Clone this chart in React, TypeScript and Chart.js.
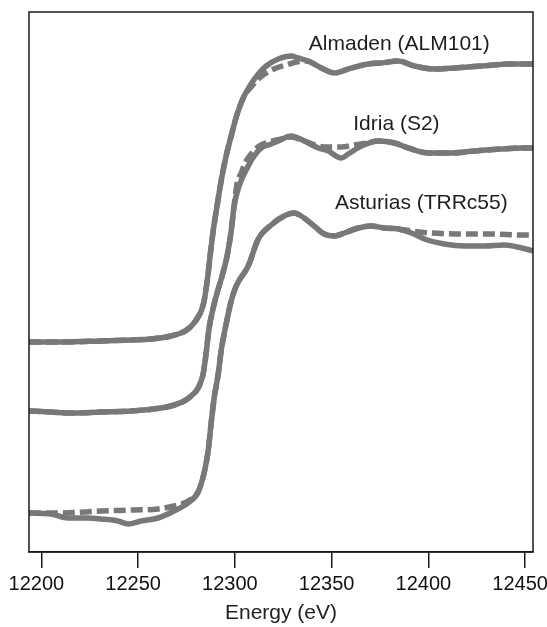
import React, { useEffect, useRef } from "react";
import { Chart, registerables } from "chart.js";

Chart.register(...registerables);

// X axis (energy, eV)
const xMin = 12193.6;
const xMax = 12454.1;
const tickValues = [12200, 12250, 12300, 12350, 12400, 12450];

// Almaden (ALM101)
const almSolidE = [12193.5, 12210.1, 12230.8, 12246.3, 12256.7, 12267.0, 12272.2, 12275.8, 12278.9, 12281.0, 12282.6, 12284.1, 12285.7, 12287.2, 12288.8, 12290.8, 12292.9, 12295.5, 12298.1, 12301.2, 12304.8, 12308.4, 12312.1, 12316.2, 12322.4, 12329.1, 12332.8, 12337.9, 12344.7, 12351.4, 12358.6, 12369.0, 12375.7, 12384.5, 12392.8, 12403.2, 12413.5, 12427.5, 12443.0, 12454.4];
const almSolidA = [2.10, 2.10, 2.11, 2.12, 2.13, 2.16, 2.19, 2.23, 2.29, 2.35, 2.41, 2.51, 2.71, 2.96, 3.21, 3.46, 3.71, 3.96, 4.16, 4.38, 4.56, 4.68, 4.78, 4.86, 4.93, 4.96, 4.94, 4.91, 4.84, 4.79, 4.83, 4.88, 4.89, 4.91, 4.86, 4.83, 4.84, 4.86, 4.88, 4.88];
const almDashE = [12193.5, 12210.1, 12230.8, 12246.3, 12256.7, 12267.0, 12272.2, 12275.8, 12278.9, 12281.0, 12282.6, 12284.1, 12285.7, 12287.2, 12288.8, 12290.8, 12292.9, 12295.5, 12298.1, 12301.2, 12304.8, 12308.4, 12312.1, 12316.2, 12321.4, 12326.6, 12331.7, 12336.9, 12344.7, 12351.4, 12358.6, 12369.0, 12375.7, 12384.5, 12392.8, 12403.2, 12413.5, 12427.5, 12443.0, 12454.4];
const almDashA = [2.10, 2.10, 2.11, 2.12, 2.13, 2.16, 2.19, 2.23, 2.29, 2.35, 2.41, 2.51, 2.71, 2.96, 3.21, 3.46, 3.71, 3.96, 4.16, 4.38, 4.56, 4.65, 4.73, 4.79, 4.84, 4.87, 4.90, 4.91, 4.84, 4.79, 4.83, 4.88, 4.89, 4.91, 4.86, 4.83, 4.84, 4.86, 4.88, 4.88];

// Idria (S2)
const idrSolidE = [12193.5, 12204.9, 12215.3, 12230.8, 12246.3, 12261.9, 12267.0, 12273.8, 12277.4, 12281.0, 12283.6, 12285.1, 12286.7, 12288.8, 12290.8, 12293.4, 12296.0, 12298.1, 12299.6, 12302.2, 12306.9, 12310.0, 12313.6, 12318.8, 12322.4, 12329.1, 12335.9, 12343.1, 12348.3, 12355.0, 12358.6, 12365.4, 12374.2, 12382.5, 12389.7, 12400.1, 12412.0, 12423.9, 12437.8, 12448.2, 12454.4];
const idrSolidA = [1.41, 1.40, 1.39, 1.40, 1.41, 1.44, 1.46, 1.51, 1.56, 1.64, 1.78, 1.98, 2.24, 2.44, 2.59, 2.76, 2.96, 3.21, 3.46, 3.66, 3.86, 3.96, 4.04, 4.08, 4.11, 4.16, 4.11, 4.04, 4.01, 3.94, 3.98, 4.06, 4.11, 4.09, 4.04, 3.99, 3.99, 4.01, 4.03, 4.04, 4.04];
const idrDashE = [12193.5, 12204.9, 12215.3, 12230.8, 12246.3, 12261.9, 12267.0, 12273.8, 12277.4, 12281.0, 12283.6, 12285.1, 12286.7, 12288.8, 12290.8, 12293.4, 12296.0, 12298.1, 12299.6, 12301.2, 12303.3, 12305.3, 12308.4, 12312.6, 12317.8, 12324.0, 12329.1, 12335.9, 12343.1, 12348.3, 12355.0, 12361.7, 12368.0, 12374.2, 12382.5, 12389.7, 12400.1, 12412.0, 12423.9, 12437.8, 12448.2, 12454.4];
const idrDashA = [1.41, 1.40, 1.39, 1.40, 1.41, 1.44, 1.46, 1.51, 1.56, 1.64, 1.78, 1.98, 2.24, 2.44, 2.59, 2.76, 2.96, 3.21, 3.46, 3.69, 3.79, 3.89, 3.98, 4.06, 4.10, 4.13, 4.15, 4.11, 4.06, 4.05, 4.05, 4.07, 4.09, 4.11, 4.09, 4.04, 3.99, 3.99, 4.01, 4.03, 4.04, 4.04];

// Asturias (TRRc55)
const astSolidE = [12193.5, 12204.9, 12213.7, 12224.1, 12230.8, 12239.6, 12244.8, 12251.5, 12260.3, 12268.6, 12275.8, 12281.0, 12284.1, 12286.2, 12287.7, 12289.3, 12291.4, 12292.9, 12295.5, 12298.1, 12300.7, 12306.9, 12312.1, 12318.8, 12325.5, 12330.7, 12334.3, 12341.0, 12346.2, 12351.4, 12356.6, 12363.8, 12370.5, 12377.3, 12384.5, 12391.3, 12398.0, 12408.3, 12418.7, 12429.0, 12439.4, 12448.2, 12454.4];
const astSolidA = [0.39, 0.38, 0.34, 0.34, 0.33, 0.31, 0.28, 0.31, 0.34, 0.41, 0.49, 0.60, 0.79, 1.01, 1.28, 1.54, 1.78, 2.01, 2.28, 2.51, 2.66, 2.86, 3.13, 3.27, 3.36, 3.39, 3.36, 3.26, 3.18, 3.16, 3.19, 3.24, 3.26, 3.24, 3.23, 3.19, 3.13, 3.08, 3.06, 3.06, 3.07, 3.04, 3.01];
const astDashE = [12193.5, 12210.1, 12230.8, 12247.9, 12260.3, 12268.6, 12275.8, 12281.0, 12284.1, 12286.2, 12287.7, 12289.3, 12291.4, 12292.9, 12295.5, 12298.1, 12300.7, 12306.9, 12312.1, 12318.8, 12325.5, 12330.7, 12334.3, 12341.0, 12346.2, 12351.4, 12356.6, 12363.8, 12370.5, 12377.3, 12384.5, 12391.3, 12401.6, 12417.1, 12432.7, 12448.2, 12452.0];
const astDashA = [0.39, 0.39, 0.41, 0.42, 0.43, 0.46, 0.51, 0.60, 0.79, 1.01, 1.28, 1.54, 1.78, 2.01, 2.28, 2.51, 2.66, 2.86, 3.13, 3.27, 3.36, 3.39, 3.36, 3.26, 3.18, 3.16, 3.19, 3.24, 3.26, 3.24, 3.23, 3.21, 3.19, 3.18, 3.18, 3.17, 3.17];

// Sample labels
const labelText = ["Almaden (ALM101)", "Idria (S2)", "Asturias (TRRc55)"];
const labelE = [12385.0, 12383.5, 12396.4];
const labelA = [5.08, 4.28, 3.49];

const yMin = 0;
const yMax = 5.40;

const LINE = "rgb(120,120,120)";
const FONT = "'Liberation Sans', Arial, Helvetica, sans-serif";

const zip = (xs: number[], ys: number[]) => xs.map((x, i) => ({ x, y: ys[i] }));

const frameAndLabels = {
  id: "frameAndLabels",
  afterDatasetsDraw(chart: any) {
    const { ctx, chartArea: a, scales } = chart;
    ctx.save();
    ctx.strokeStyle = "#1a1a1a";
    ctx.lineWidth = 1.5;
    ctx.strokeRect(a.left, a.top, a.right - a.left, a.bottom - a.top);
    ctx.font = `21px ${FONT}`;
    ctx.fillStyle = "#1e1e1e";
    ctx.textAlign = "center";
    ctx.textBaseline = "middle";
    labelText.forEach((txt, i) => {
      ctx.fillText(txt, scales.x.getPixelForValue(labelE[i]), scales.y.getPixelForValue(labelA[i]));
    });
    ctx.restore();
  },
};

export default function App() {
  const ref = useRef<HTMLCanvasElement | null>(null);

  useEffect(() => {
    if (!ref.current) return;
    const solid = (data: any) => ({
      data,
      borderColor: LINE,
      borderWidth: 5.5,
      pointRadius: 0,
      fill: false,
      cubicInterpolationMode: "monotone" as const,
      borderJoinStyle: "round" as const,
    });
    const dashed = (data: any) => ({
      ...solid(data),
      borderDash: [12, 5],
    });
    const chart = new Chart(ref.current, {
      type: "line",
      data: {
        datasets: [
          solid(zip(almSolidE, almSolidA)),
          dashed(zip(almDashE, almDashA)),
          solid(zip(idrSolidE, idrSolidA)),
          dashed(zip(idrDashE, idrDashA)),
          solid(zip(astSolidE, astSolidA)),
          dashed(zip(astDashE, astDashA)),
        ],
      },
      options: {
        animation: false,
        responsive: false,
        events: [],
        layout: { padding: { left: 29, right: 14, top: 12, bottom: 0 } },
        plugins: { legend: { display: false }, tooltip: { enabled: false } },
        scales: {
          x: {
            type: "linear",
            min: xMin,
            max: xMax,
            afterBuildTicks: (scale: any) => {
              scale.ticks = tickValues.map((v) => ({ value: v }));
            },
            afterFit: (scale: any) => {
              scale.height = 75;
              scale.paddingLeft = 0;
              scale.paddingRight = 0;
            },
            grid: {
              display: true,
              drawOnChartArea: false,
              drawTicks: true,
              tickLength: 16,
              color: "#1a1a1a",
              lineWidth: 1.5,
            },
            border: { display: true, color: "#1a1a1a", width: 1.5 },
            ticks: {
              color: "#111",
              font: { family: FONT, size: 20 },
              padding: 4,
              labelOffset: -5,
              maxRotation: 0,
              autoSkip: false,
              callback: (v: any) => String(v),
            },
            title: {
              display: true,
              text: "Energy (eV)",
              color: "#222",
              font: { family: FONT, size: 21 },
              padding: { top: 0, bottom: 1 },
            },
          },
          y: { type: "linear", min: yMin, max: yMax, display: false },
        },
      },
      plugins: [frameAndLabels],
    });
    return () => chart.destroy();
  }, []);

  return (
    <div style={{ position: "absolute", left: 0, top: 0, width: 547, height: 627, background: "#fff" }}>
      <canvas ref={ref} width={547} height={627} style={{ display: "block", width: 547, height: 627 }} />
    </div>
  );
}
